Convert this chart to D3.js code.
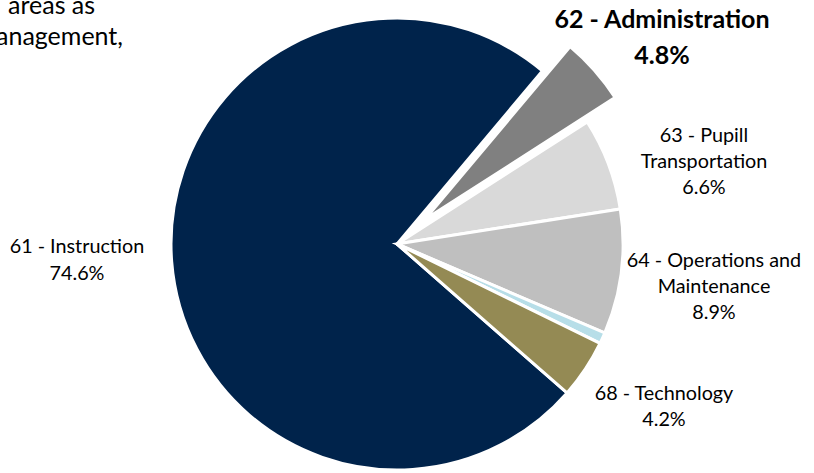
<!DOCTYPE html>
<html lang="en">
<head>
<meta charset="UTF-8">
<script src="https://cdn.jsdelivr.net/npm/d3@7"></script>
<title>Expenditure by Function</title>
<style>
    body { margin: 0; background: #fff; overflow: hidden; }
    svg { display: block; font-family: Lato, "Open Sans", sans-serif; }
    .lbl { fill: #000; font-size: 19.8px; }
    .lbl.big { font-size: 25px; font-weight: bold; }
</style>
</head>
<body>
<script>
    // chart data
    const categories = ["61 - Instruction", "62 - Administration", "63 - Pupill Transportation",
                        "64 - Operations and Maintenance", "", "68 - Technology"];
    const values = [74.6, 4.8, 6.6, 8.9, 0.8, 4.2];
    const pctLabels = ["74.6%", "4.8%", "6.6%", "8.9%", "", "4.2%"];
    const colors = ["#00234b", "#808080", "#d9d9d9", "#bfbfbf", "#b7dee8", "#948a54"];

    // label lines + where excel put them (layout only)
    const labelLines = [
        ["61 - Instruction"],
        ["62 - Administration"],
        ["63 - Pupill", "Transportation"],
        ["64 - Operations and", "Maintenance"],
        [],
        ["68 - Technology"]
    ];
    const labelAnchor = [[77, 253], [662, 28], [704, 142], [714, 267], null, [664, 400]];
    const exploded = 1; // administration slice pulled out

    const width = 814, height = 473;
    const cx = 397, cy = 244, radius = 226;

    const svg = d3.select("body").append("svg")
        .attr("width", width)
        .attr("height", height);

    // cut-off text box from the slide, top left
    svg.append("text").attr("x", 8).attr("y", 14)
        .attr("font-size", 25).attr("fill", "#000").text("areas as");
    svg.append("text").attr("x", 123).attr("y", 45).attr("text-anchor", "end")
        .attr("font-size", 25).attr("fill", "#000").text("management,");

    const start = 131.2 * Math.PI / 180;
    const pie = d3.pie().sort(null)
        .startAngle(start)
        .endAngle(start + 2 * Math.PI)
        .value(d => d);

    const arcs = pie(values);
    const arc = d3.arc().innerRadius(0).outerRadius(radius);

    const g = svg.append("g").attr("transform", `translate(${cx},${cy})`);

    g.selectAll("path")
        .data(arcs)
        .enter()
        .append("path")
        .attr("d", arc)
        .attr("fill", (d, i) => colors[i])
        .attr("stroke", "#fff")
        .attr("stroke-width", 3)
        .attr("stroke-linejoin", "miter")
        .attr("transform", (d, i) => {
            if (i !== exploded) return null;
            const mid = (d.startAngle + d.endAngle) / 2;
            const off = 37;
            return `translate(${Math.sin(mid) * off},${-Math.cos(mid) * off})`;
        });

    // data labels
    labelLines.forEach((lines, i) => {
        if (!labelAnchor[i]) return;
        const big = i === exploded;
        const lh = big ? 36 : 26;
        const t = svg.append("text")
            .attr("class", big ? "lbl big" : "lbl")
            .attr("text-anchor", "middle");
        lines.concat([pctLabels[i]]).forEach((s, k) => {
            t.append("tspan")
                .attr("x", labelAnchor[i][0])
                .attr("y", labelAnchor[i][1] + k * (i === 0 ? 27 : lh))
                .text(s);
        });
    });
</script>
</body>
</html>
